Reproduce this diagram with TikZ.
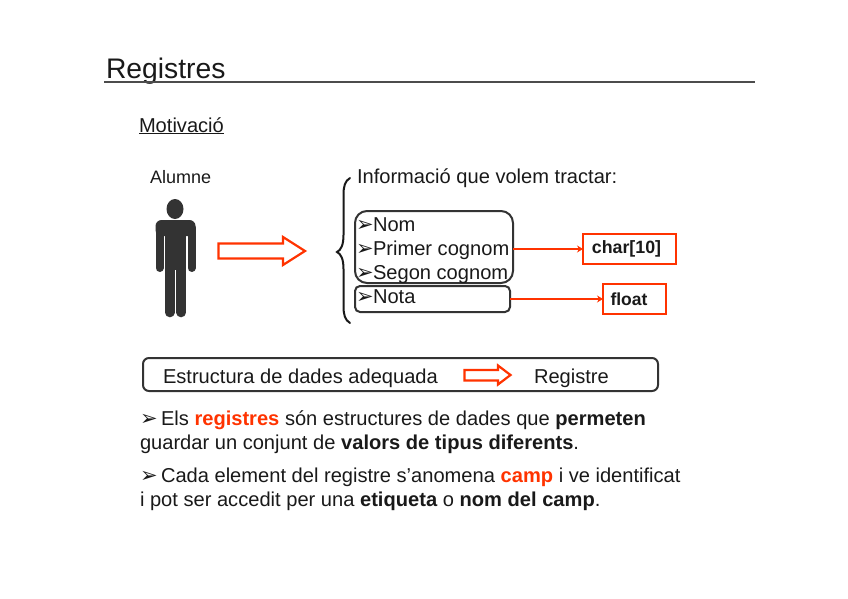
\documentclass[tikz,border=0pt]{standalone}
\usepackage{fontspec}
\setmainfont{Liberation Sans}
\newfontfamily\symfont{DejaVu Sans}
\usetikzlibrary{arrows.meta}
\definecolor{hot}{HTML}{FF3300}
\definecolor{dk}{HTML}{333333}
\newcommand{\bul}{{\symfont\fontsize{21}{21}\selectfont\makebox[16pt][l]{\kern-1pt ➢}}}
\newcommand{\parbul}{{\symfont\fontsize{21}{21}\selectfont\makebox[21pt][l]{➢}}}
\newcommand{\hl}[1]{\textbf{\textcolor{hot}{#1}}}
\tikzset{
  txt/.style={anchor=base west,inner sep=0pt,outer sep=0pt,font=\fontsize{20.1}{24}\selectfont,text=black!90},
  small/.style={txt,font=\fontsize{18}{22}\selectfont},
  frame/.style={draw=dk,line width=2pt,rounded corners=#1,inner sep=0pt,outer sep=0pt},
  frame/.default=8pt,
  typebox/.style={draw=hot,line width=2.2pt,inner sep=0pt,outer sep=0pt,text=black!90},
  link/.style={draw=hot,line width=1.8pt,-{Stealth[length=6pt,width=7pt]}},
  blockarrow/.style={draw=hot,line width=2.2pt,fill=white,line join=miter},
}
\begin{document}
\begin{tikzpicture}[x=1pt,y=-1pt]
\useasboundingbox (0,0) rectangle (848,599);
% title
\node[txt,font=\fontsize{28.3}{32}\selectfont] (title) at (106,78.5) {Registres};
\coordinate (rl) at (104,82); \coordinate (rr) at (755,82);
\draw[black!70,line width=1.2pt] (rl) -- (rr);
\node[txt] (mot) at (139,132) {\underline{Motivació}};
\node[small] (alu) at (150,183) {Alumne};
\node[txt] (inf) at (357,183) {Informació que volem tractar:};
% person
\fill[dk] (175,209) ellipse (8.5 and 10);
\fill[dk,rounded corners=6pt] (155.5,236) -- (155.5,220) -- (195.5,220) -- (195.5,236) -- cycle;
\fill[dk] (165,226) rectangle (186,270);
\draw[dk,line width=8pt,line cap=round] (159.5,228) -- (159.5,268);
\draw[dk,line width=8pt,line cap=round] (191.5,228) -- (191.5,268);
\draw[dk,line width=9.6pt,line cap=round] (169.8,262) -- (169.8,312.5);
\draw[dk,line width=9.6pt,line cap=round] (181.2,262) -- (181.2,312.5);
% block arrows
\draw[blockarrow] (218.5,243.5) -- (283,243.5) -- (283,237) -- (305,251) -- (283,265) -- (283,258.5) -- (218.5,258.5) -- cycle;
% brace
\draw[black!90,line width=2pt,line cap=round] (350,178) .. controls (345,181) and (343.5,186) .. (343.5,195) -- (343.5,235) .. controls (343.5,245) and (341,250) .. (337,252) .. controls (341,254) and (343.5,259) .. (343.5,269) -- (343.5,306) .. controls (343.5,315) and (345,320) .. (350,323);
% groups
\node[frame=12pt,minimum width=158pt,minimum height=72pt] (grp) at (434,247) {};
\node[frame=5pt,minimum width=155pt,minimum height=26pt] (nota) at (432.5,299) {};
\node[txt] (t1) at (357,231) {\bul Nom};
\node[txt] (t2) at (357,255) {\bul Primer cognom};
\node[txt] (t3) at (357,279) {\bul Segon cognom};
\node[txt] (t4) at (357,303) {\bul Nota};
% types
\node[typebox,font=\fontsize{17.8}{22}\selectfont\bfseries,minimum width=93pt,minimum height=30pt] (chr) at (629.5,249) {\kern-6pt\raisebox{-2pt}{char[10]}};
\node[typebox,font=\fontsize{17.5}{22}\selectfont\bfseries,minimum width=63pt,minimum height=30pt] (flt) at (634.5,299) {\kern-11pt\raisebox{-0.5pt}{float}};
\draw[link] (grp.east |- chr.west) -- (chr.west);
\draw[link] (nota.east |- flt.west) -- (flt.west);
% summary bar
\node[frame=6pt,minimum width=515pt,minimum height=33pt] (bar) at (400.5,374.5) {};
\node[txt] (est) at (163,383) {Estructura de dades adequada};
\draw[blockarrow] (464.5,370) -- (498,370) -- (498,365.5) -- (510.5,375) -- (498,384.5) -- (498,380.5) -- (464.5,380.5) -- cycle;
\node[txt] (reg) at (534,383) {Registre};
% paragraphs
\node[txt] (p1) at (140,425) {\parbul Els \hl{registres} són estructures de dades que \textbf{permeten}};
\node[txt] (p2) at (140,449) {guardar un conjunt de \textbf{valors de tipus diferents}.};
\node[txt] (p3) at (140,482) {\parbul Cada element del registre s’anomena \hl{camp} i ve identificat};
\node[txt] (p4) at (140,506) {i pot ser accedit per una \textbf{etiqueta} o \textbf{nom del camp}.};
\end{tikzpicture}
\end{document}
